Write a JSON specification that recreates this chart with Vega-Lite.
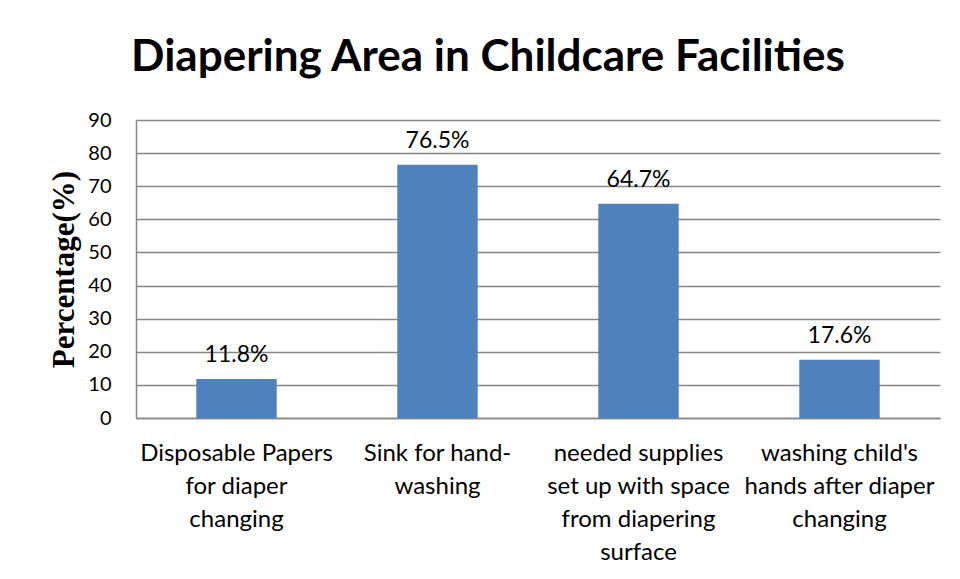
{
  "$schema": "https://vega.github.io/schema/vega-lite/v6.json",
  "autosize": "none",
  "width": 804,
  "height": 298,
  "padding": {"left": 136, "top": 120, "right": 20, "bottom": 161},
  "background": "white",
  "title": {
    "text": "Diapering Area in Childcare Facilities",
    "font": "Lato",
    "fontSize": 44,
    "fontWeight": "bold",
    "color": "#000000",
    "anchor": "middle",
    "dx": -50,
    "offset": 30
  },
  "data": {
    "values": [
      {"category": "Disposable Papers for diaper changing", "value": 11.8, "text": "11.8%"},
      {"category": "Sink for hand-washing", "value": 76.5, "text": "76.5%"},
      {"category": "needed supplies set up with space from diapering surface", "value": 64.7, "text": "64.7%"},
      {"category": "washing child's hands after diaper changing", "value": 17.6, "text": "17.6%"}
    ]
  },
  "encoding": {
    "x": {
      "field": "category",
      "type": "nominal",
      "sort": null,
      "scale": {"paddingInner": 0.6, "paddingOuter": 0.3},
      "axis": {
        "title": null,
        "labelAngle": 0,
        "labelExpr": "datum.value === 'Disposable Papers for diaper changing' ? ['Disposable Papers', 'for diaper', 'changing'] : datum.value === 'Sink for hand-washing' ? ['Sink for hand-', 'washing'] : datum.value === 'needed supplies set up with space from diapering surface' ? ['needed supplies', 'set up with space', 'from diapering', 'surface'] : ['washing child\\'s', 'hands after diaper', 'changing']",
        "ticks": false,
        "labelPadding": 23,
        "labelFont": "Lato",
        "labelFontSize": 24,
        "labelLineHeight": 33,
        "labelColor": "#000000",
        "labelLimit": 300,
        "domainColor": "#868686",
        "domainWidth": 1.5
      }
    },
    "y": {
      "field": "value",
      "type": "quantitative",
      "scale": {"domain": [0, 90]},
      "axis": {
        "title": "Percentage(%)",
        "titleFont": "Liberation Serif",
        "titleFontSize": 31,
        "titleFontWeight": "bold",
        "titleColor": "#000000",
        "titlePadding": 7,
        "values": [0, 10, 20, 30, 40, 50, 60, 70, 80, 90],
        "ticks": false,
        "labelPadding": 25,
        "labelFont": "Lato",
        "labelFontSize": 20,
        "labelColor": "#000000",
        "grid": true,
        "gridColor": "#868686",
        "gridWidth": 1.5,
        "domainColor": "#868686",
        "domainWidth": 1.5
      }
    }
  },
  "layer": [
    {"mark": {"type": "bar", "color": "#4F81BD"}},
    {
      "mark": {"type": "text", "baseline": "alphabetic", "dy": -17, "font": "Lato", "fontSize": 23, "color": "#000000"},
      "encoding": {"text": {"field": "text"}}
    }
  ],
  "config": {"view": {"stroke": null}}
}
